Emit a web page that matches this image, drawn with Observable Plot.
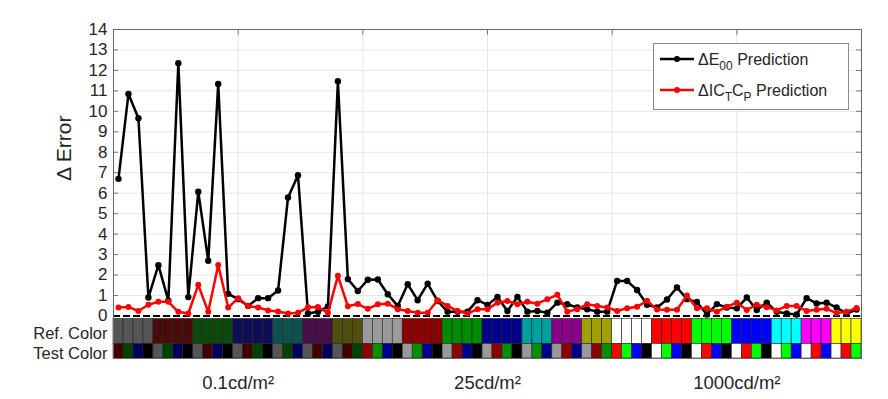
<!DOCTYPE html>
<html><head><meta charset="utf-8">
<script src="https://cdn.jsdelivr.net/npm/d3@7"></script>
<script src="https://cdn.jsdelivr.net/npm/@observablehq/plot@0.6"></script>
<style>
body{margin:0;background:#fff;font-family:"Liberation Sans",Arial,sans-serif;}
#chart{width:888px;height:399px;}
</style></head><body><div id="chart"></div>
<script>
// ΔE00 prediction error per test pair (black)
const dE00 = [
  6.7, 10.85, 9.66, 0.9, 2.48, 0.75, 12.35, 0.92, 6.07, 2.7,
  11.34, 1.08, 0.82, 0.49, 0.87, 0.87, 1.24, 5.79, 6.88, 0.12,
  0.2, 0.46, 11.47, 1.8, 1.22, 1.77, 1.78, 1.06, 0.49, 1.55,
  0.77, 1.58, 0.73, 0.21, 0.21, 0.21, 0.77, 0.54, 0.93, 0.24,
  0.93, 0.21, 0.24, 0.16, 0.65, 0.57, 0.41, 0.33, 0.21, 0.21,
  1.71, 1.71, 1.27, 0.55, 0.41, 0.8, 1.39, 0.82, 0.68, 0.07,
  0.58, 0.41, 0.37, 0.9, 0.29, 0.65, 0.2, 0.12, 0.07, 0.87,
  0.61, 0.65, 0.41, 0.12, 0.31
];
// ΔICtCp prediction error per test pair (red)
const dICTCP = [
  0.41, 0.44, 0.24, 0.55, 0.69, 0.69, 0.2, 0.12, 1.52, 0.2,
  2.49, 0.41, 0.87, 0.49, 0.41, 0.27, 0.22, 0.12, 0.15, 0.42,
  0.44, 0.15, 1.96, 0.47, 0.58, 0.35, 0.57, 0.6, 0.33, 0.24,
  0.16, 0.16, 0.77, 0.49, 0.24, 0.12, 0.33, 0.33, 0.65, 0.73,
  0.57, 0.69, 0.6, 0.82, 1.03, 0.21, 0.33, 0.57, 0.49, 0.41,
  0.24, 0.38, 0.45, 0.74, 0.32, 0.3, 0.3, 1.0, 0.37, 0.37,
  0.2, 0.45, 0.65, 0.29, 0.55, 0.43, 0.27, 0.49, 0.49, 0.24,
  0.3, 0.35, 0.14, 0.2, 0.39
];
const refColors = [
  "#555555","#555555","#555555","#555555",
  "#4a0a0c","#4a0a0c","#4a0a0c","#4a0a0c",
  "#0c4a0c","#0c4a0c","#0c4a0c","#0c4a0c",
  "#0e0e58","#0e0e58","#0e0e58","#0e0e58",
  "#0e5050","#0e5050","#0e5050",
  "#480e48","#480e48","#480e48",
  "#50500e","#50500e","#50500e",
  "#9a9a9a","#9a9a9a","#9a9a9a","#9a9a9a",
  "#8c0000","#8c0000","#8c0000","#8c0000",
  "#008c00","#008c00","#008c00","#008c00",
  "#00008c","#00008c","#00008c","#00008c",
  "#00a0a0","#00a0a0","#00a0a0",
  "#8c008c","#8c008c","#8c008c",
  "#a0a000","#a0a000","#a0a000",
  "#ffffff","#ffffff","#ffffff","#ffffff",
  "#ff0000","#ff0000","#ff0000","#ff0000",
  "#00ff00","#00ff00","#00ff00","#00ff00",
  "#0000ff","#0000ff","#0000ff","#0000ff",
  "#00ffff","#00ffff","#00ffff",
  "#ff00ff","#ff00ff","#ff00ff",
  "#ffff00","#ffff00","#ffff00"
];
const testColors = [
  "#420000","#004200","#00005a","#000000",
  "#555555","#004200","#00005a","#000000",
  "#555555","#420000","#00005a","#000000",
  "#555555","#420000","#004200","#000000",
  "#555555","#004200","#00005a",
  "#555555","#420000","#00005a",
  "#555555","#420000","#004200",
  "#8c0000","#009000","#00008c","#000000",
  "#999999","#009000","#00008c","#000000",
  "#999999","#8c0000","#00008c","#000000",
  "#999999","#8c0000","#009000","#000000",
  "#999999","#009000","#00008c",
  "#999999","#8c0000","#00008c",
  "#999999","#8c0000","#009000",
  "#ff0000","#00ff00","#0000ff","#000000",
  "#ffffff","#00ff00","#0000ff","#000000",
  "#ffffff","#ff0000","#0000ff","#000000",
  "#ffffff","#ff0000","#00ff00","#000000",
  "#ffffff","#00ff00","#0000ff",
  "#ffffff","#ff0000","#0000ff",
  "#ffffff","#ff0000","#00ff00"
];
const yTicks = [0,1,2,3,4,5,6,7,8,9,10,11,12,13,14];
const xTickValues = [12.5, 25, 37.5, 50, 62.5];
const xTickLabels = ["0.1cd/m²", "", "25cd/m²", "", "1000cd/m²"];
const rowLabels = ["Ref. Color", "Test Color"];
const yLabel = "Δ Error";

// layout (patch rows below zero, in y units)
const REF_TOP = -0.15, REF_BOT = -1.37, TEST_BOT = -2.08;
const INK = "#262626";

const n = dE00.length;
const idx = d3.range(n);
const pts = idx.map(i => ({x: i + 0.5, e: dE00[i], c: dICTCP[i]}));
const patches = idx.flatMap(i => [
  {x1: i, x2: i + 1, y1: REF_TOP, y2: REF_BOT, fill: refColors[i]},
  {x1: i, x2: i + 1, y1: REF_BOT, y2: TEST_BOT, fill: testColors[i]}
]);
const xLabelMap = new Map(xTickValues.map((v, i) => [v, xTickLabels[i]]));
const rowCenters = [(REF_TOP + REF_BOT) / 2, (REF_BOT + TEST_BOT) / 2];
const rowMap = new Map(rowCenters.map((v, i) => [v, rowLabels[i]]));

const plot = Plot.plot({
  width: 888, height: 399,
  marginLeft: 113, marginRight: 27, marginTop: 29, marginBottom: 41,
  style: {fontFamily: "'Liberation Sans', Arial, sans-serif", color: INK, background: "white"},
  x: {domain: [0, n]},
  y: {domain: [TEST_BOT, 14]},
  marks: [
    Plot.ruleY(yTicks, {stroke: "#e6e6e6", strokeWidth: 1}),
    Plot.ruleX(xTickValues, {y1: 0, y2: 14, stroke: "#e6e6e6", strokeWidth: 1}),
    Plot.ruleY(yTicks, {x1: 0, x2: 0.5, stroke: "#777"}),
    Plot.ruleY(yTicks, {x1: n - 0.5, x2: n, stroke: "#777"}),
    Plot.ruleX(xTickValues, {y1: 14, y2: 13.72, stroke: "#777"}),
    Plot.rect(patches, {x1: "x1", x2: "x2", y1: "y1", y2: "y2", fill: "fill", stroke: "#222", strokeWidth: 0.6}),
    Plot.ruleY([0], {stroke: "black", strokeWidth: 2, strokeDasharray: "7,3"}),
    Plot.line(pts, {x: "x", y: "e", stroke: "black", strokeWidth: 2.5}),
    Plot.dot(pts, {x: "x", y: "e", r: 3.2, fill: "black"}),
    Plot.line(pts, {x: "x", y: "c", stroke: "#ff0000", strokeWidth: 2.5}),
    Plot.dot(pts, {x: "x", y: "c", r: 3, fill: "#ff0000"}),
    Plot.frame({stroke: "#666", strokeWidth: 1}),
    Plot.axisY(yTicks, {tickSize: 0, tickPadding: 6, fontSize: 17, label: null, fill: INK}),
    Plot.axisY(rowCenters, {tickSize: 0, tickPadding: 6, fontSize: 16.5, dy: 2.2, label: null, fill: INK, tickFormat: d => rowMap.get(d)}),
    Plot.axisX(xTickValues, {tickSize: 0, tickPadding: 17, fontSize: 18.5, label: null, fill: INK, tickFormat: d => xLabelMap.get(d)}),
    Plot.text([yLabel], {text: d => d, frameAnchor: "left", rotate: -90, dx: -49, dy: -13, fontSize: 21, fill: INK})
  ]
});
document.getElementById("chart").appendChild(plot);

// Legend (MATLAB style box, top-right)
const svg = d3.select(plot);
const lg = svg.append("g").attr("font-family", "'Liberation Sans', Arial, sans-serif")
  .attr("fill", INK).attr("text-anchor", "start");
lg.append("rect").attr("x", 653.5).attr("y", 43.5).attr("width", 195).attr("height", 66)
  .attr("fill", "white").attr("stroke", "#8a8a8a").attr("stroke-width", 1);
const entries = [
  {color: "black", parts: [["ΔE", 0], ["00", 1], [" Prediction", 0]]},
  {color: "#ff0000", parts: [["ΔIC", 0], ["T", 1], ["C", 0], ["P", 1], [" Prediction", 0]]}
];
entries.forEach((e, k) => {
  const cy = 59 + k * 31;
  lg.append("line").attr("x1", 660).attr("x2", 694).attr("y1", cy).attr("y2", cy)
    .attr("stroke", e.color).attr("stroke-width", 2.5);
  lg.append("circle").attr("cx", 677).attr("cy", cy).attr("r", 3).attr("fill", e.color);
  const t = lg.append("text").attr("x", 698).attr("y", cy + 5.5).attr("font-size", 16)
    .attr("text-anchor", "start");
  let sub = false;
  e.parts.forEach(([s, isSub]) => {
    const ts = t.append("tspan").text(s);
    if (isSub) {
      ts.attr("font-size", 12);
      if (!sub) { ts.attr("dy", 5); sub = true; }
    } else if (sub) {
      ts.attr("dy", -5); sub = false;
    }
  });
});
</script></body></html>
